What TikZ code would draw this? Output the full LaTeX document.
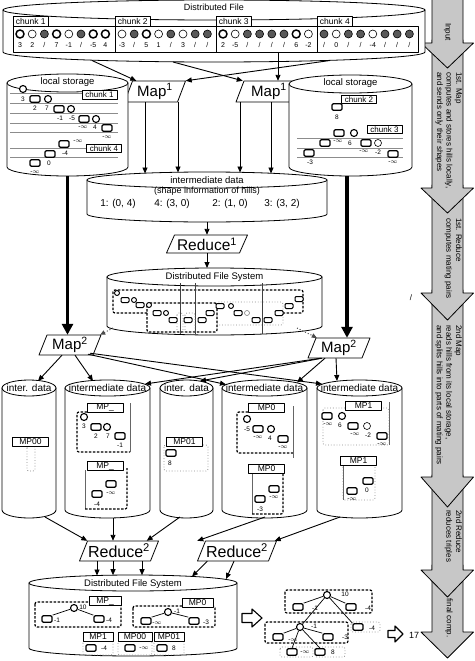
\documentclass[tikz,border=0pt]{standalone}
\usepackage{fontspec}
\setmainfont{Liberation Sans}
\usetikzlibrary{calc,arrows.meta}
\newcommand\myfs[1]{\fontsize{#1}{#1}\selectfont}
\newcommand\sidefont{\fontsize{8}{9.6}\selectfont}
\newcounter{lbn}
\newcommand\hlb[3]{\stepcounter{lbn}\node[lbl] (lb\thelbn) at (#1,#2) {#3};}
\newcommand\minf{-$\infty$}
\newcommand\Hr[3]{\node[hrect] (#1) at (#2,#3) {};}
\newcommand\Hc[3]{\node[hcirc] (#1) at (#2,#3) {};}
\newcommand\mcyl[5]{%
 \pgfmathsetmacro\cylcx{(#1+#2)/2}%
 \pgfmathsetmacro\cylrx{(#2-#1)/2}%
 \filldraw[fill=white,line width=0.8pt] (#1,#3) -- (#1,#4) arc[start angle=180,end angle=360,x radius=\cylrx pt,y radius=#5pt] -- (#2,#3) -- cycle;
 \filldraw[fill=white,line width=0.8pt] (\cylcx,#3) ellipse[x radius=\cylrx pt,y radius=#5pt];
}
\newcommand\parabox[7]{%
 \draw[fill=white,line width=0.8pt] ({#2-#4/2+4},{#3-#5/2}) -- ({#2+#4/2+4},{#3-#5/2}) -- ({#2+#4/2-4},{#3+#5/2}) -- ({#2-#4/2-4},{#3+#5/2}) -- cycle;
 \node[inner sep=0pt,minimum width=#4pt,minimum height=#5pt,font=\myfs{#7}] (#1) at (#2,#3) {#6};}
\newcommand\bigarr[3]{%
 \filldraw[fill=black!22,line width=0.8pt] (432,#1) -- (463,#1) -- (463,#2) -- (473.5,#2) -- (447.5,#3) -- (421,#2) -- (432,#2) -- cycle;}
\tikzset{
 hrect/.style={draw, line width=1.2pt, rounded corners=1.2pt, minimum width=10pt, minimum height=6.5pt, inner sep=0pt, fill=white},
 hcirc/.style={draw, circle, line width=1.1pt, minimum size=7pt, inner sep=0pt, fill=white},
 hrs/.style={hrect, minimum width=8pt, minimum height=5pt, line width=1pt},
 hcs/.style={hcirc, minimum size=5pt, line width=0.9pt},
 hcg/.style={hcirc, line width=0.6pt},
 lbl/.style={font=\myfs{6.5}, inner sep=0pt},
 numl/.style={font=\myfs{7}, inner sep=0pt},
 mpbox/.style={draw, fill=white, line width=0.6pt, font=\myfs{8.5}, minimum height=9pt, minimum width=36pt, inner sep=0pt},
 dreg/.style={dash pattern=on 2.5pt off 1.5pt, line width=1.2pt, rounded corners=2pt},
 greg/.style={draw=black!45, dotted, line width=0.8pt, rounded corners=2pt},
 cirb/.style={circle, draw, fill=white, line width=1.5pt, minimum size=8pt, inner sep=0pt},
 cirt/.style={circle, draw, fill=white, line width=0.6pt, minimum size=8pt, inner sep=0pt},
 cirf/.style={circle, draw, fill=black!65, line width=0.6pt, minimum size=8pt, inner sep=0pt},
 arr/.style={-{Triangle[length=6pt,width=5pt]}, line width=0.9pt},
 thk/.style={-{Triangle[length=11pt,width=11pt]}, line width=3.5pt},
 dotarr/.style={-{Triangle[length=5pt,width=4.5pt]}, dotted, line width=1pt, black!70},
 tl/.style={line width=0.7pt},
}
\begin{document}
\begin{tikzpicture}[x=1pt,y=-1pt,line join=round]
\useasboundingbox (0,0) rectangle (474,661);
% ---------- side arrows
\bigarr{565}{632}{658}
\bigarr{475}{570}{597}
\bigarr{290}{477}{507}
\bigarr{185}{293}{320}
\bigarr{40}{188}{213}
\bigarr{-5}{43}{68}
\node[rotate=-90,font=\sidefont,inner sep=0pt] (tin) at (447.5,32) {Input};
\node[rotate=-90,anchor=north west,align=left,font=\sidefont,inner sep=0pt] (tm1) at (462,72) {1st. Map\\computes and stores hills locally,\\and sends only their shapes};
\node[rotate=-90,anchor=north west,align=left,font=\sidefont,inner sep=0pt] (tr1) at (462,218) {1st. Reduce\\computes mating pairs};
\node[rotate=-90,anchor=north west,align=left,font=\sidefont,inner sep=0pt] (tm2) at (462,325) {2nd Map\\reads hills from its local storage,\\and splits hills into parts of mating pairs};
\node[rotate=-90,anchor=north west,align=left,font=\sidefont,inner sep=0pt] (tr2) at (462,510) {2nd Reduce\\reduces triples};
\node[rotate=-90,font=\sidefont,inner sep=0pt] (tfc) at (449,618) {final comp.};
% ---------- top distributed file
\mcyl{3}{425}{10}{52}{10}
\node[font=\myfs{9}] (dft) at (214,7) {Distributed File};
\foreach \i/\xa/\xb in {1/13/115,2/115/216,3/216/317,4/317/418}{
 \node[draw,fill=white,line width=0.7pt,minimum width={(\xb-\xa)*1pt},minimum height=26pt,inner sep=0pt] (cb\i) at ({(\xa+\xb)/2},39) {};
 \node[draw,fill=white,line width=0.7pt,anchor=north west,minimum width=35pt,minimum height=10pt,inner sep=0pt,font=\myfs{8.5}] (ch\i) at (\xa,16) {chunk \i};
}
\foreach \s/\v [count=\i from 0] in {cirb/3,cirt/2,cirf/\slash,cirb/7,cirt/-1,cirf/\slash,cirb/-5,cirb/4}
 {\node[\s] (ka\i) at ({20+12.2*\i},34) {}; \node[numl] (na\i) at ({20+12.2*\i},45) {\v};}
\foreach \s/\v [count=\i from 0] in {cirt/-3,cirf/\slash,cirb/5,cirt/1,cirf/\slash,cirt/3,cirf/\slash,cirf/\slash}
 {\node[\s] (kb\i) at ({122+12.2*\i},34) {}; \node[numl] (nb\i) at ({122+12.2*\i},45) {\v};}
\foreach \s/\v [count=\i from 0] in {cirb/2,cirt/-5,cirf/\slash,cirf/\slash,cirf/\slash,cirf/\slash,cirb/6,cirt/-2}
 {\node[\s] (kc\i) at ({223+12.2*\i},34) {}; \node[numl] (nc\i) at ({223+12.2*\i},45) {\v};}
\foreach \s/\v [count=\i from 0] in {cirf/\slash,cirt/0,cirf/\slash,cirf/\slash,cirt/-4,cirf/\slash,cirf/\slash,cirf/\slash}
 {\node[\s] (kd\i) at ({324+12.2*\i},34) {}; \node[numl] (nd\i) at ({324+12.2*\i},45) {\v};}
% ---------- Map1
\parabox{m1a}{155}{91.5}{53}{21}{Map\textsuperscript{1}}{15}
\parabox{m1b}{269}{91.5}{58}{21}{Map\textsuperscript{1}}{15}
% ---------- left local storage
\mcyl{7}{128}{83}{167}{9}
\node[font=\myfs{9.5}] (lst1) at (67.5,82) {local storage};
\foreach \yy in {93,103,113,123,132,148,157} \draw[black!45,line width=0.5pt] (10,\yy) -- (118,\yy);
\node[mpbox,font=\myfs{8},minimum width=35pt,minimum height=8.5pt] (lc1) at (99.5,95) {chunk 1};
\node[mpbox,font=\myfs{8},minimum width=35pt,minimum height=8.5pt] (lc4) at (104,148.5) {chunk 4};
\Hc{la1}{23}{89} \hlb{23}{99}{3}
\Hr{la2}{35}{99} \Hc{la3}{48}{99} \hlb{35}{108}{2} \hlb{47}{108}{7}
\Hr{la4}{59}{109} \Hc{la5}{71}{109} \hlb{60}{118}{-1} \hlb{72}{118}{-5}
\Hr{la6}{84}{119} \Hc{la7}{96}{119} \hlb{83}{127.5}{\minf} \hlb{95}{127.5}{4}
\Hr{la8}{107}{128} \hlb{107}{137}{\minf}
\Hr{la9}{64}{144} \hlb{78}{141.5}{\minf}
\Hr{la10}{50}{154} \hlb{65}{153}{-4}
\Hr{la11}{35}{163} \hlb{49}{163}{0}
\hlb{35}{172}{\minf}
% ---------- right local storage
\mcyl{289}{412}{84}{167}{9}
\node[font=\myfs{9.5}] (lst2) at (350.5,83) {local storage};
\foreach \yy in {138,148,157} \draw[black!45,line width=0.5pt] (297,\yy) -- (403,\yy);
\node[mpbox,font=\myfs{8},minimum width=35pt,minimum height=8.5pt] (lc2) at (359,99.5) {chunk 2};
\node[mpbox,font=\myfs{8},minimum width=35pt,minimum height=8.5pt] (lc3) at (384.5,129.5) {chunk 3};
\Hr{lb1}{337}{107} \hlb{337}{117}{8}
\Hr{lb2}{339}{133} \Hc{lb3}{354}{133} \hlb{338}{141.5}{\minf} \hlb{350}{143}{6}
\Hr{lb4}{325}{143}
\Hr{lb5}{366}{143} \node[hcg] (lb6) at (378,143) {}; \hlb{364}{151.5}{\minf} \hlb{378}{152}{-2}
\Hr{lb7}{309}{153} \hlb{310}{162}{-3}
\Hr{lb8}{393}{154} \hlb{393}{162.5}{\minf}
% ---------- intermediate data
\mcyl{87}{327}{180}{214}{8}
\node[font=\myfs{9.5}] (idt) at (207,180) {intermediate data};
\node[font=\myfs{9}] (ids) at (207,191) {(shape information of hills)};
\node[font=\myfs{10}] (p1) at (118,204) {1: (0, 4)};
\node[font=\myfs{10}] (p2) at (172,204) {4: (3, 0)};
\node[font=\myfs{10}] (p3) at (230,204) {2: (1, 0)};
\node[font=\myfs{10}] (p4) at (282,204) {3: (3, 2)};
% ---------- Reduce1
\parabox{r1}{207}{244}{73}{18}{Reduce\textsuperscript{1}}{15.5}
% ---------- DFS middle
\mcyl{107}{322}{277}{326}{9}
\node[font=\myfs{9.5}] (dfm) at (214.5,277) {Distributed File System};
\draw[greg] (217,302) rectangle (283,325);
\draw[dreg] (147,313) -- (113,313) -- (113,290) -- (303,290) -- (303,313) -- (283,313);
\draw[dreg] (147,303) rectangle (217,332);
\foreach \xx in {180,195,262} \draw[black!75,line width=0.5pt] (\xx,283) -- (\xx,334);
\draw[greg] (177,313) rectangle (183,333);
\draw[greg] (185,313) rectangle (195,333);
\foreach \xx/\yy [count=\i] in {125/300,140/305,157/313,173/320,188/320,202/320,210/313,220/306,238/313,256/320,268/320,279/313,289/306,299/299}
 \node[hrs] (dm\i) at (\xx,\yy) {};
\foreach \xx/\yy [count=\i] in {117/293,134/300,149/305,166/313,231/306}
 \node[hcs] (dc\i) at (\xx,\yy) {};
\node[hcs,draw=black!50,line width=0.6pt] (dc6) at (247,313) {};
\node[font=\myfs{8},inner sep=0pt] (slx) at (411,298) {/};
% ---------- Map2
\parabox{m2a}{70}{345}{54}{20}{Map\textsuperscript{2}}{15}
\parabox{m2b}{339}{348}{54}{20}{Map\textsuperscript{2}}{15}
% ---------- five cylinders
\mcyl{2}{56}{388}{510}{8}
\mcyl{65}{150}{388}{510}{8}
\mcyl{160}{213}{388}{510}{8}
\mcyl{222}{307}{388}{510}{8}
\mcyl{317}{402}{388}{510}{8}
\node[font=\myfs{10}] (c1t) at (29,388) {inter. data};
\node[font=\myfs{10}] (c2t) at (107.5,388) {intermediate data};
\node[font=\myfs{10}] (c3t) at (186.5,388) {inter. data};
\node[font=\myfs{10}] (c4t) at (264.5,388) {intermediate data};
\node[font=\myfs{10}] (c5t) at (359.5,388) {intermediate data};
% cyl1
\draw[greg] (27,446) rectangle (35,471);
\node[mpbox] (mp00a) at (30.5,441.5) {MP00};
% cyl2
\draw[dreg] (87,412) -- (77,412) -- (77,452) -- (130,452);
\draw[line width=0.5pt,black!60] (130,403) -- (130,452);
\node[mpbox] (mpa) at (105,407.5) {MP\_};
\Hc{q1}{84}{417} \hlb{84}{426}{3}
\Hr{q2}{96}{427} \Hc{q3}{107}{427} \hlb{96}{436}{2} \hlb{108}{436}{7}
\Hr{q4}{120}{436} \hlb{120}{445}{-1}
\draw[line width=0.5pt,black!60] (85,470) -- (85,509);
\draw[dreg] (85,509) -- (127,509) -- (127,468);
\node[mpbox] (mpb) at (105,466) {MP\_};
\Hr{q5}{111}{484} \hlb{111}{493}{\minf}
\Hr{q6}{97}{494} \hlb{97}{504}{-4}
% cyl3
\draw[greg] (164,445) rectangle (208,471);
\node[mpbox] (mp01a) at (184.5,441.5) {MP01};
\Hr{q7}{171}{453} \hlb{170}{463}{8}
% cyl4
\draw[dreg] (248,412) -- (237,412) -- (237,453) -- (293,453);
\draw[line width=0.5pt,black!60] (293,406) -- (293,458);
\node[mpbox] (mp0a) at (266.5,407.5) {MP0};
\Hc{q8}{247}{419} \hlb{247}{429}{-5}
\Hr{q9}{258}{429} \Hc{q10}{271}{429} \hlb{258}{437.5}{\minf} \hlb{270}{438}{4}
\Hr{q11}{283}{439} \hlb{283}{447}{\minf}
\draw[line width=0.5pt,black!60] (252,473) -- (252,514);
\draw[dreg] (252,514) -- (283,514) -- (283,472);
\node[mpbox] (mp0b) at (266.5,469) {MP0};
\Hr{q12}{274}{489} \hlb{274}{497.5}{\minf}
\Hr{q13}{260}{499} \hlb{260}{509}{-3}
% cyl5
\draw[greg] (323,408) rectangle (389,445);
\draw[line width=0.5pt,black!60] (389,402) -- (389,445);
\node[mpbox] (mp1a) at (363.5,405.5) {MP1};
\Hr{q14}{327}{416} \hlb{328}{424.5}{\minf} \Hc{q15}{342}{416} \hlb{340}{425}{6}
\Hr{q16}{353}{426} \node[hcg] (q17) at (367,426) {}; \hlb{355}{434.5}{\minf} \hlb{368}{435}{-2}
\Hr{q18}{382}{436} \hlb{382}{444.5}{\minf}
\draw[greg] (343,465) rectangle (375,500);
\draw[line width=0.5pt,black!60] (343,465) -- (343,500);
\node[mpbox] (mp1b) at (358.5,461) {MP1};
\Hr{q19}{368}{481} \hlb{367}{490}{0}
\Hr{q20}{352}{491} \hlb{352}{499.5}{\minf}
% ---------- Reduce2
\parabox{r2a}{119}{551}{71}{20}{Reduce\textsuperscript{2}}{16}
\parabox{r2b}{237}{551}{71}{20}{Reduce\textsuperscript{2}}{16}
% ---------- DFS final
\mcyl{29}{237}{583}{648}{8}
\node[font=\myfs{9.5}] (dff) at (133,584) {Distributed File System};
\draw[dreg] (35,602) rectangle (121,627);
\node[mpbox,minimum width=32pt] (fmp) at (105,601) {MP\_};
\Hc{f1}{74}{608} \hlb{83}{607}{10}
\Hr{f2}{47}{619} \hlb{57}{620}{-1}
\Hr{f3}{99}{619} \hlb{109}{620}{-4}
\draw[tl] (f1) -- (f2.north east); \draw[tl] (f1) -- (f3.north west);
\draw[dreg] (133,606) rectangle (215,627);
\node[mpbox,minimum width=31pt] (fmp0) at (197.5,603) {MP0};
\Hc{f4}{168}{612} \hlb{177}{611}{-1}
\Hr{f5}{146}{621} \hlb{157}{623}{\minf}
\Hr{f6}{194}{621} \hlb{206}{622}{-3}
\draw[tl] (f4) -- (f5.north east); \draw[tl] (f4) -- (f6.north west);
\draw[greg] (83,641) rectangle (113,655);
\draw[greg] (118,641) rectangle (152,655);
\draw[greg] (154,641) rectangle (184,655);
\node[mpbox,minimum width=30pt] (fm1) at (98,637) {MP1};
\node[mpbox,minimum width=34pt] (fm00) at (135,637) {MP00};
\node[mpbox,minimum width=30pt] (fm01) at (169,637) {MP01};
\Hr{f7}{91}{648} \hlb{104}{648}{-4}
\Hr{f8}{130}{648} \hlb{144}{648}{\minf}
\Hr{f9}{162}{648} \hlb{174}{648}{8}
% hollow arrows
\draw[fill=white,line width=1.1pt] (242,613.5) -- (252,613.5) -- (252,609) -- (262,618) -- (252,627) -- (252,622.5) -- (242,622.5) -- cycle;
\draw[fill=white,line width=1.1pt] (388,630.5) -- (395,630.5) -- (395,626) -- (403,634) -- (395,642) -- (395,637.5) -- (388,637.5) -- cycle;
\node[font=\myfs{9},inner sep=0pt] (res) at (414,635) {17};
% ---------- final tree
\draw[dreg] (285,590) rectangle (372,613);
\draw[dreg] (265,622) rectangle (348,643);
\draw[greg] (351,622) rectangle (380,632);
\draw[greg] (280,647) rectangle (313,657);
\draw[greg] (315,647) rectangle (345,657);
\Hc{t1}{327}{595} \hlb{345}{594}{10}
\Hr{a1}{298}{607} \hlb{315}{608}{-1}
\Hr{a2}{351}{607} \hlb{368}{608}{-4}
\Hr{a3}{358}{627} \hlb{372}{628}{-4}
\Hc{t2}{300}{627} \hlb{314}{626}{-1}
\Hr{b1}{278}{637} \hlb{293}{640}{\minf}
\Hr{b2}{328}{637} \hlb{345}{637}{-3}
\Hr{b3}{292}{652} \hlb{305}{652}{\minf}
\Hr{b4}{320}{652} \hlb{333}{652}{8}
\draw[tl] (t1) -- (a1.north east); \draw[tl] (t1) -- (a2.north west);
\draw[tl] (t1) -- (t2); \draw[tl] (t1) -- (a3.north west);
\draw[tl] (t2) -- (b1.north east); \draw[tl] (t2) -- (b2.north west);
\draw[tl] (t2) -- (b3.north); \draw[tl] (t2) -- (b4.north);
% ---------- connectors
\coordinate (o1) at (92,60.5);
\coordinate (o2) at (173,62);
\coordinate (o3) at (278,52);
\coordinate (o4) at (330,60.5);
\draw[arr] (o1) -- ($(m1a.north west)+(8,0)$);
\draw[arr] (o4) -- ($(m1a.north east)+(4,0)$);
\draw[arr] (o2) -- ($(m1b.north west)+(3,0)$);
\draw[arr] (o3) -- (o3 |- m1b.north);
\coordinate (i1) at (145,173.5); \coordinate (i2) at (178,172.5);
\coordinate (i3) at (240,172.5); \coordinate (i4) at (271,173.5);
\draw[arr] (m1a.south -| i1) -- (i1);
\draw[arr] (m1a.south -| i2) -- (i2);
\draw[arr] (m1b.south -| i3) -- (i3);
\draw[arr] (m1b.south -| i4) -- (i4);
\coordinate (idb) at (207,222);
\draw[arr] (idb) -- (r1.north);
\coordinate (dmt) at (207,268);
\draw[arr] (r1.south) -- (dmt);
\coordinate (ls1b) at (67.5,176);
\coordinate (ls2b) at (347,176);
\draw[thk] (ls1b) -- (ls1b |- m2a.north);
\draw[thk] (ls2b) -- (ls2b |- m2b.north);
\coordinate (dd1) at (113,328); \coordinate (dd2) at (297,328);
\draw[dotarr] (dd1) -- ($(m2a.north east)+(3,0)$);
\draw[dotarr] (dd2) -- ($(m2b.north west)+(5,0)$);
\coordinate (e1) at (38,381); \coordinate (e2) at (93,381); \coordinate (e3) at (145,384);
\coordinate (e4) at (200,381); \coordinate (e5) at (226,384.5); \coordinate (e6) at (297,382.5);
\coordinate (e7) at (322,384); \coordinate (e8) at (337,381);
\draw[arr] ($(m2a.south)+(-8,0)$) -- (e1);
\draw[arr] ($(m2a.south)+(5,0)$) -- (e2);
\draw[arr] ($(m2a.south)+(18,-1)$) -- (e5);
\draw[arr] ($(m2a.south)+(20,-2)$) -- (e7);
\draw[arr] ($(m2b.south)+(-18,0)$) -- (e3);
\draw[arr] ($(m2b.south)+(-17,0)$) -- (e4);
\draw[arr] ($(m2b.south)+(-14,0)$) -- (e6);
\draw[arr] ($(m2b.south)+(-3,0)$) -- (e8);
\coordinate (g1) at (45,517); \coordinate (g2) at (113,518); \coordinate (g3) at (180,517);
\coordinate (g4) at (265,517); \coordinate (g5) at (340,517);
\draw[arr] (g1) -- ($(r2a.north west)+(4,0)$);
\draw[arr] (g2) -- (g2 |- r2a.north);
\draw[arr] (g3) -- ($(r2a.north east)+(-8,0)$);
\draw[arr] (g4) -- ($(r2b.north west)+(-4,0)$);
\draw[arr] (g5) -- ($(r2b.north east)+(2,0)$);
\coordinate (h1) at (97,575.5); \coordinate (h2) at (113,575.2); \coordinate (h3) at (142,575.2);
\coordinate (h4) at (192,576.5); \coordinate (h5) at (226,579);
\draw[arr] (r2a.south -| h1) -- (h1);
\draw[arr] (r2a.south -| h2) -- (h2);
\draw[arr] (r2a.south -| h3) -- (h3);
\draw[arr] ($(r2b.south west)+(6,0)$) -- (h4);
\draw[arr] ($(r2b.south)+(-3,0)$) -- (h5);
\end{tikzpicture}
\end{document}
